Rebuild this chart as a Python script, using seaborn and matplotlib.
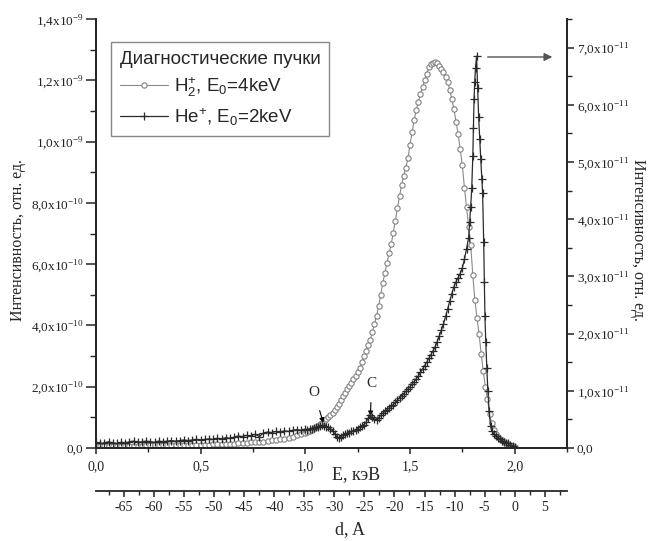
import numpy as np
import pandas as pd
import matplotlib
matplotlib.use("Agg")
import matplotlib.pyplot as plt
from matplotlib.ticker import MultipleLocator, FixedLocator, FuncFormatter
import seaborn as sns

# H2+ beam, E0 = 4 keV (left axis, units of 1e-9)
e_h2 = [0.00, 0.02, 0.04, 0.06, 0.08, 0.10, 0.12, 0.14, 0.16, 0.18,
        0.20, 0.22, 0.24, 0.26, 0.28, 0.30, 0.32, 0.34, 0.36, 0.38,
        0.40, 0.42, 0.44, 0.46, 0.48, 0.50, 0.52, 0.54, 0.56, 0.58,
        0.60, 0.62, 0.64, 0.66, 0.68, 0.70, 0.72, 0.74, 0.76, 0.78,
        0.80, 0.82, 0.84, 0.86, 0.88, 0.90, 0.92, 0.94, 0.96, 0.98,
        1.00, 1.01, 1.02, 1.03, 1.04, 1.05, 1.06, 1.07, 1.08, 1.09,
        1.10, 1.11, 1.12, 1.13, 1.14, 1.15, 1.16, 1.17, 1.18, 1.19,
        1.20, 1.21, 1.22, 1.23, 1.24, 1.25, 1.26, 1.27, 1.28, 1.29,
        1.30, 1.31, 1.32, 1.33, 1.34, 1.35, 1.36, 1.37, 1.38, 1.39,
        1.40, 1.41, 1.42, 1.43, 1.44, 1.45, 1.46, 1.47, 1.48, 1.49,
        1.50, 1.51, 1.52, 1.53, 1.54, 1.55, 1.56, 1.57, 1.58, 1.59,
        1.60, 1.61, 1.62, 1.63, 1.64, 1.65, 1.66, 1.67, 1.68, 1.69,
        1.70, 1.71, 1.72, 1.73, 1.74, 1.75, 1.76, 1.77, 1.78, 1.79,
        1.80, 1.81, 1.82, 1.83, 1.84, 1.85, 1.86, 1.87, 1.88, 1.89,
        1.90, 1.91, 1.92, 1.93, 1.94, 1.95, 1.96, 1.97, 1.98, 1.99, 2.00]
i_h2 = [0.008, 0.008, 0.008, 0.008, 0.008, 0.008, 0.008, 0.008, 0.008, 0.008,
        0.008, 0.008, 0.009, 0.009, 0.009, 0.009, 0.009, 0.009, 0.009, 0.010,
        0.010, 0.010, 0.010, 0.010, 0.010, 0.011, 0.011, 0.011, 0.012, 0.012,
        0.013, 0.013, 0.014, 0.014, 0.015, 0.016, 0.017, 0.018, 0.019, 0.020,
        0.021, 0.023, 0.025, 0.027, 0.029, 0.031, 0.034, 0.037, 0.041, 0.045,
        0.050, 0.053, 0.056, 0.060, 0.064, 0.068, 0.073, 0.078, 0.083, 0.088,
        0.094, 0.100, 0.107, 0.115, 0.124, 0.134, 0.145, 0.158, 0.170, 0.180,
        0.191, 0.202, 0.213, 0.224, 0.235, 0.247, 0.262, 0.280, 0.299, 0.318,
        0.336, 0.352, 0.378, 0.405, 0.430, 0.462, 0.500, 0.538, 0.572, 0.604,
        0.635, 0.665, 0.702, 0.742, 0.782, 0.822, 0.858, 0.888, 0.915, 0.945,
        0.990, 1.030, 1.070, 1.103, 1.130, 1.155, 1.178, 1.200, 1.222, 1.243,
        1.252, 1.258, 1.260, 1.256, 1.248, 1.238, 1.226, 1.212, 1.196, 1.168,
        1.138, 1.105, 1.065, 1.024, 0.975, 0.922, 0.850, 0.785, 0.722, 0.662,
        0.565, 0.482, 0.425, 0.372, 0.308, 0.250, 0.200, 0.160, 0.112, 0.080,
        0.060, 0.045, 0.036, 0.030, 0.025, 0.021, 0.017, 0.014, 0.010, 0.006, 0.002]

# He+ beam, E0 = 2 keV (right axis, units of 1e-11)
e_he = [0.00, 0.02, 0.04, 0.06, 0.08, 0.10, 0.12, 0.14, 0.16, 0.18,
        0.20, 0.22, 0.24, 0.26, 0.28, 0.30, 0.32, 0.34, 0.36, 0.38,
        0.40, 0.42, 0.44, 0.46, 0.48, 0.50, 0.52, 0.54, 0.56, 0.58,
        0.60, 0.62, 0.64, 0.66, 0.68, 0.70, 0.72, 0.74, 0.76, 0.78,
        0.80, 0.82, 0.84, 0.86, 0.88, 0.90, 0.92, 0.94, 0.96, 0.98,
        1.00, 1.01, 1.02, 1.03, 1.04, 1.05, 1.06, 1.07, 1.08, 1.09,
        1.10, 1.11, 1.12, 1.13, 1.14, 1.15, 1.16, 1.17, 1.18, 1.19,
        1.20, 1.21, 1.22, 1.23, 1.24, 1.25, 1.26, 1.27, 1.28, 1.29,
        1.30, 1.31, 1.32, 1.33, 1.34, 1.35, 1.36, 1.37, 1.38, 1.39,
        1.40, 1.41, 1.42, 1.43, 1.44, 1.45, 1.46, 1.47, 1.48, 1.49,
        1.50, 1.51, 1.52, 1.53, 1.54, 1.55, 1.56, 1.57, 1.58, 1.59,
        1.60, 1.61, 1.62, 1.63, 1.64, 1.65, 1.66, 1.67, 1.68, 1.69,
        1.70, 1.71, 1.72, 1.73, 1.74, 1.75, 1.76, 1.77, 1.78, 1.785,
        1.79, 1.795, 1.80, 1.803, 1.806, 1.809, 1.813, 1.818, 1.823, 1.828,
        1.833, 1.838, 1.843, 1.847, 1.852, 1.855, 1.858, 1.862, 1.867, 1.872,
        1.878, 1.885, 1.89, 1.90, 1.91, 1.92, 1.93, 1.94, 1.95, 1.96,
        1.97, 1.98, 1.99, 2.00]
i_he = [0.10, 0.08, 0.09, 0.11, 0.09, 0.08, 0.10, 0.09, 0.11, 0.12,
        0.10, 0.11, 0.12, 0.11, 0.10, 0.12, 0.11, 0.12, 0.13, 0.12,
        0.13, 0.14, 0.13, 0.14, 0.15, 0.14, 0.15, 0.16, 0.15, 0.17,
        0.16, 0.18, 0.17, 0.19, 0.21, 0.20, 0.22, 0.21, 0.24, 0.20,
        0.26, 0.28, 0.27, 0.29, 0.28, 0.30, 0.29, 0.31, 0.32, 0.31,
        0.33, 0.32, 0.34, 0.33, 0.35, 0.36, 0.37, 0.38, 0.40, 0.39,
        0.37, 0.36, 0.34, 0.30, 0.25, 0.20, 0.17, 0.20, 0.22, 0.24,
        0.26, 0.27, 0.29, 0.30, 0.32, 0.34, 0.36, 0.38, 0.41, 0.45,
        0.52, 0.58, 0.55, 0.50, 0.49, 0.53, 0.57, 0.61, 0.64, 0.67,
        0.70, 0.73, 0.76, 0.80, 0.84, 0.88, 0.91, 0.95, 0.99, 1.03,
        1.07, 1.12, 1.16, 1.21, 1.26, 1.32, 1.38, 1.44, 1.50, 1.57,
        1.63, 1.70, 1.77, 1.86, 1.96, 2.06, 2.17, 2.30, 2.43, 2.57,
        2.70, 2.82, 2.91, 2.98, 3.05, 3.15, 3.30, 3.48, 3.68, 3.95,
        4.22, 4.55, 5.10, 5.60, 6.10, 6.40, 6.65, 6.85, 6.30, 5.78,
        5.40, 5.05, 4.70, 4.45, 3.60, 2.90, 2.30, 1.85, 1.40, 1.00,
        0.65, 0.38, 0.30, 0.25, 0.21, 0.18, 0.15, 0.13, 0.11, 0.09,
        0.08, 0.06, 0.04, 0.02]

# Tick positions
e_ticks = [0.0, 0.5, 1.0, 1.5, 2.0]
left_ticks = [0.0, 0.2e-9, 0.4e-9, 0.6e-9, 0.8e-9, 1.0e-9, 1.2e-9, 1.4e-9]
right_ticks = [0.0, 1e-11, 2e-11, 3e-11, 4e-11, 5e-11, 6e-11, 7e-11]
d_ticks = [-65, -60, -55, -50, -45, -40, -35, -30, -25, -20, -15, -10, -5, 0, 5]

label_h2 = r"H$_\mathsf{2}^\mathsf{+}$, E$_\mathsf{0}$=4keV"
label_he = r"He$^\mathsf{+}$, E$_\mathsf{0}$=2keV"
legend_title = "Диагностические пучки"
y_label = "Интенсивность, отн. ед."
KEV_TO_ANGSTROM = 34.83  # depth scale: d = (E - 2.0 keV) * k

df_h2 = pd.DataFrame({"E": e_h2, "I": np.array(i_h2) * 1e-9})
df_he = pd.DataFrame({"E": e_he, "I": np.array(i_he) * 1e-11})

sns.set_style("ticks")
plt.rcParams["font.family"] = ["Liberation Serif", "DejaVu Serif"]
plt.rcParams["mathtext.fontset"] = "custom"
plt.rcParams["mathtext.rm"] = "Liberation Serif"
plt.rcParams["mathtext.it"] = "Liberation Sans"
plt.rcParams["mathtext.sf"] = "Liberation Sans"
plt.rcParams["axes.linewidth"] = 1.3
plt.rcParams["xtick.direction"] = "out"
plt.rcParams["ytick.direction"] = "out"

fig = plt.figure(figsize=(6.52, 5.41), dpi=100)
ax = fig.add_axes([96 / 652, 1 - 448 / 541, 471 / 652, 429 / 541])
ax2 = ax.twinx()

sns.lineplot(data=df_h2, x="E", y="I", ax=ax, sort=False, color="#8a8a8a",
             lw=0.8, marker="o", markersize=3.8, markerfacecolor="white",
             markeredgecolor="#808080", markeredgewidth=0.8, label=label_h2,
             legend=False)
sns.lineplot(data=df_he, x="E", y="I", ax=ax2, sort=False, color="#2a2a2a",
             lw=0.9, marker="+", markersize=5.5, markeredgewidth=0.9,
             markeredgecolor="#2a2a2a", label=label_he, legend=False)

ax.set_xlim(0, 2.25)
ax.set_ylim(0, 1.4e-9)
ax2.set_ylim(0, 7.5e-11)

ax.spines["top"].set_visible(False)
ax2.spines["top"].set_visible(False)


def sci_fmt(v, pos=None):
    if abs(v) < 1e-20:
        return "0,0"
    ex = int(np.floor(np.log10(abs(v)) + 1e-9))
    mant = v / 10 ** ex
    return f"{mant:.1f}".replace(".", ",") + r"x10$^{\mathrm{%d}}$" % ex


ax.xaxis.set_major_locator(FixedLocator(e_ticks))
ax.xaxis.set_minor_locator(MultipleLocator(0.25))
ax.xaxis.set_major_formatter(FuncFormatter(lambda v, p: f"{v:.1f}".replace(".", ",")))
ax.yaxis.set_major_locator(FixedLocator(left_ticks))
ax.yaxis.set_minor_locator(MultipleLocator(0.1e-9))
ax.yaxis.set_major_formatter(FuncFormatter(sci_fmt))
ax2.yaxis.set_major_locator(FixedLocator(right_ticks))
ax2.yaxis.set_minor_locator(MultipleLocator(0.5e-11))
ax2.yaxis.set_major_formatter(FuncFormatter(sci_fmt))

ax.tick_params(axis="y", which="major", length=7, width=1.1, labelsize=9.5, pad=2, colors="#222222")
ax.tick_params(axis="y", which="minor", length=4.5, width=1.0)
ax.tick_params(axis="x", which="major", length=4, width=1.1, labelsize=10, pad=5, colors="#222222")
ax.tick_params(axis="x", which="minor", length=3, width=1.0)
ax2.tick_params(axis="y", which="major", length=5, width=1.1, labelsize=9.5, pad=2, colors="#222222")
ax2.tick_params(axis="y", which="minor", length=3.5, width=1.0)
ax.set_xlabel("")
ax.set_ylabel("")
ax2.set_ylabel("")

# Depth scale below the energy axis
secax = ax.secondary_xaxis(-0.1, functions=(lambda e: (e - 2.0) * KEV_TO_ANGSTROM,
                                            lambda d: d / KEV_TO_ANGSTROM + 2.0))
secax.xaxis.set_major_locator(FixedLocator(d_ticks))
secax.xaxis.set_minor_locator(MultipleLocator(2.5))
secax.xaxis.set_major_formatter(FuncFormatter(lambda v, p: f"{int(round(v))}"))
secax.tick_params(axis="x", which="major", length=4, width=1.1, labelsize=10, pad=3, colors="#222222")
secax.tick_params(axis="x", which="minor", length=3, width=1.0)
secax.spines["bottom"].set_linewidth(1.3)

ax.text(0.552, -0.061, "E, кэВ", transform=ax.transAxes, ha="center", va="center", fontsize=13)
ax.text(0.539, -0.191, "d, A", transform=ax.transAxes, ha="center", va="center", fontsize=13)
fig.text(18 / 652, 1 - 240 / 541, y_label, rotation=90, ha="center", va="center", fontsize=11.5)
fig.text(638 / 652, 1 - 240 / 541, y_label, rotation=270, ha="center", va="center", fontsize=11.5)

# Peak markers
ax.annotate("O", xy=(1.086, 0.082e-9), xytext=(1.043, 0.18e-9), fontsize=11,
            ha="center", va="center",
            arrowprops=dict(arrowstyle="-|>", color="black", lw=0.8, mutation_scale=7,
                            shrinkA=6, shrinkB=0))
ax.annotate("C", xy=(1.311, 0.104e-9), xytext=(1.316, 0.212e-9), fontsize=11,
            ha="center", va="center",
            arrowprops=dict(arrowstyle="-|>", color="black", lw=0.8, mutation_scale=7,
                            shrinkA=7, shrinkB=0))
# He+ peak refers to the right axis
ax.annotate("", xy=(2.18, 1.276e-9), xytext=(1.871, 1.276e-9),
            arrowprops=dict(arrowstyle="-|>", color="#555555", lw=1.0, mutation_scale=12,
                            shrinkA=0, shrinkB=0))

h1, l1 = ax.get_legend_handles_labels()
h2, l2 = ax2.get_legend_handles_labels()
leg = ax.legend(h1 + h2, l1 + l2, title=legend_title, loc="upper left",
                bbox_to_anchor=(0.032, 0.946), borderaxespad=0, frameon=True,
                fancybox=False, edgecolor="#888888", framealpha=1,
                prop={"family": "Liberation Sans", "size": 13.5},
                title_fontproperties={"family": "Liberation Sans", "size": 13.5},
                alignment="left", handlelength=2.6, handletextpad=0.3,
                labelspacing=0.4, borderpad=0.45)
leg.get_frame().set_linewidth(1.0)

fig.savefig("out.png", dpi=100)
